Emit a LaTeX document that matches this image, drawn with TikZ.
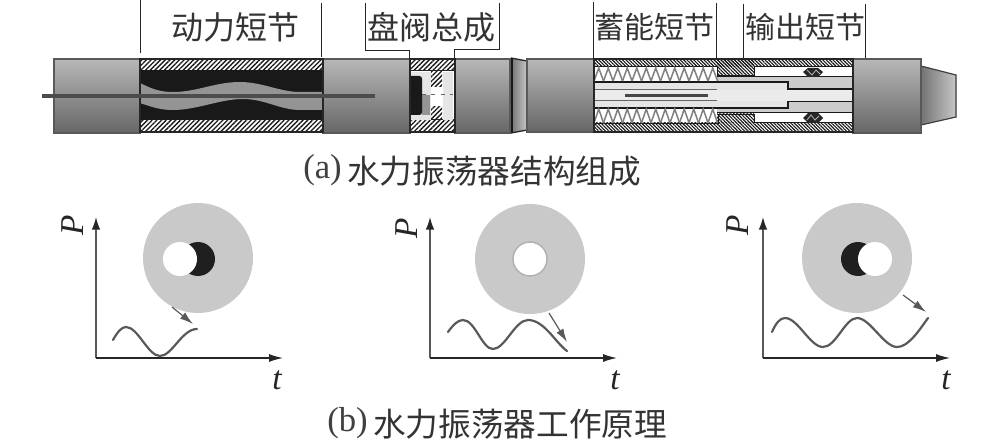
\documentclass[tikz,border=0pt]{standalone}
\usepackage{fontspec}
\setmainfont{Liberation Serif}
\newfontfamily\cjk{Noto Sans CJK SC}
\usetikzlibrary{patterns.meta,arrows.meta}
\definecolor{ink}{gray}{0.15}
\definecolor{wavegray}{gray}{0.35}
\definecolor{diskgray}{gray}{0.79}
\definecolor{lightfill}{gray}{0.9}
\definecolor{bandgray}{gray}{0.8}
\tikzset{
  px/.style={line width=#1*0.75pt},
  cylinder/.style={draw=black!65,px=1.2,top color=black!28,middle color=black!30,bottom color=black!60},
  hatchL/.style={pattern={Lines[angle=45,distance=2.5pt,line width=1pt]},pattern color=black!90},
  hatchR/.style={pattern={Lines[angle=-45,distance=1.8pt,line width=0.85pt]},pattern color=black!90},
  edge/.style={draw=ink,px=1.3},
  leader/.style={draw=ink,px=1},
  title/.style={font=\cjk\fontsize{24}{24}\selectfont,text=black!80,inner sep=0pt},
  titlesm/.style={font=\cjk\fontsize{22.5}{24}\selectfont,text=black!80,inner sep=0pt},
  caption/.style={font=\fontsize{26}{26}\selectfont,text=black!75,inner sep=0pt,anchor=west},
  captioncjk/.style={font=\cjk\fontsize{24.5}{26}\selectfont,text=black!80,inner sep=0pt,anchor=west},
  axisv/.style={draw=black!65,px=1.5,-{Latex[length=9.5pt,width=6.5pt,black!85]}},
  axish/.style={draw=black!85,px=1.2,-{Latex[length=10.5pt,width=6pt,black!85]}},
  wave/.style={draw=wavegray,px=2.2,line cap=round},
  pointer/.style={draw=wavegray,px=1.2,-{Latex[length=10pt,width=6pt,wavegray]}},
  axislabel/.style={font=\itshape\fontsize{25}{25}\selectfont,text=black!85,inner sep=0pt},
  seal/.style={fill=black!85},
  springline/.style={draw=black!50,px=1.5}
}
\begin{document}
\begin{tikzpicture}[x=0.75pt,y=-0.75pt]
\useasboundingbox (0,0) rectangle (981,442);

% ---- tapered joint and nose behind the cylinders
\fill[left color=black!55,right color=black!22] (511,58) -- (527,61) -- (527,130) -- (511,133) -- cycle;
\draw[edge] (511,58) -- (527,61) (511,133) -- (527,130);
\draw[draw=black!90,px=3] (511,58) -- (511,133);
\fill[left color=black!55,right color=black!22] (921,66) -- (956,75) -- (956,117) -- (921,125) -- cycle;
\draw[draw=black!75,px=1.2] (921,66) -- (956,75) -- (956,117) -- (921,125);

% ---- cylinders
\draw[cylinder] (54,59) rectangle (140,133);
\draw[cylinder] (323,59) rectangle (410,133);
\draw[cylinder] (455,59) rectangle (510,133);
\draw[cylinder] (527,59) rectangle (594,132);
\draw[cylinder] (853,59) rectangle (921,133);

% ---- power section
\fill[white] (140,59) rectangle (323,132);
\fill[hatchL] (140,59) rectangle (323,70);
\fill[hatchL] (140,120) rectangle (323,132);
\fill[black!90] (140,70) rectangle (323,120);
\fill[black!42]
  (140,83) .. controls (152,89) and (160,92) .. (173,92)
  .. controls (197,92) and (215,82) .. (240,82)
  .. controls (262,82) and (280,92) .. (300,92) -- (323,92)
  -- (323,110) -- (300,110)
  .. controls (280,110) and (265,99) .. (243,99)
  .. controls (220,99) and (197,110) .. (173,110)
  .. controls (160,110) and (152,107) .. (140,103) -- cycle;
\draw[edge] (140,59) rectangle (323,132);

% ---- disc valve assembly
\fill[white] (410,59) rectangle (455,132);
\fill[hatchL] (410,59) rectangle (455,70);
\fill[hatchL] (410,120) rectangle (455,132);
\draw[draw=black!85,px=1] (410,71) -- (455,71) (410,120) -- (455,120);
\fill[lightfill] (411,72) rectangle (431,120);
\fill[black!42] (422,95) rectangle (430,115);
\fill[black!90] (411,76) -- (419,76) .. controls (421,76) and (422,77) .. (422,79) -- (422,112) .. controls (422,114) and (421,115) .. (419,115) -- (411,115) -- cycle;
\fill[hatchL] (431,72) rectangle (442,87);
\fill[hatchL] (431,106) rectangle (442,120);
\fill[white] (431,87) rectangle (442,106);
\fill[lightfill] (443,72) rectangle (453,120);
\draw[draw=black!60,px=1,dash pattern=on 3pt off 4pt] (422,95) -- (453,95);
\draw[edge] (410,59) rectangle (455,132);

% ---- accumulator and output sections
\fill[white] (594,59) rectangle (853,132);
\fill[hatchR] (594,59) rectangle (853,67);
\fill[hatchR] (594,123) rectangle (853,132);
\fill[hatchR] (717,59) rectangle (754,76);
\fill[hatchR] (717,114) rectangle (754,123);
\draw[draw=black!90,px=1] (594,67) -- (717,67) -- (717,76) -- (754,76) -- (754,67) -- (853,67);
\draw[draw=black!90,px=1] (594,124) -- (718,124) -- (718,115) -- (754,115) -- (754,123) -- (853,123);
\fill[bandgray] (717,77) rectangle (853,113);
\draw[draw=black!90,px=1] (717,77) -- (853,77) (717,113) -- (853,113);
\fill[lightfill] (594,82) rectangle (788,108);
\draw[draw=black!90,px=1.8] (594,82) -- (788,82) -- (788,89) -- (853,89);
\draw[draw=black!90,px=1.8] (594,108) -- (788,108) -- (788,101) -- (853,101);
\fill[white!92!black] (594,90) rectangle (853,101);
\draw[draw=black!60,px=1] (594,90) -- (717,90);
\draw[draw=black!60,px=1] (594,101) -- (717,101);
\fill[black!72] (625,94) rectangle (708,97);
% springs
\foreach \i in {0,...,12}{
  \draw[springline] ({594+\i*9.5},81) -- ({598.75+\i*9.5},68) -- ({603.5+\i*9.5},81);
  \draw[springline] ({594+\i*9.5},123) -- ({598.75+\i*9.5},109) -- ({603.5+\i*9.5},123);
}
% seals
\fill[seal] (803,72) -- (808,68) -- (818,68) -- (823,72) -- (818,77) -- (808,77) -- cycle;
\fill[seal] (803,118) -- (808,113) -- (818,113) -- (823,118) -- (818,123) -- (808,123) -- cycle;
\draw[draw=white!70!black,px=0.8] (807,70) -- (812,75) -- (816,70) -- (820,74) (807,120) -- (811,115) -- (815,120) -- (819,116);
\draw[edge] (594,59) rectangle (853,132);

% ---- long rod through the power section
\fill[black!70] (42,94) rectangle (375,98);

% ---- leader lines
\draw[leader] (140,0) -- (140,53);
\draw[leader] (321,3) -- (321,57);
\draw[leader] (365,3) -- (365,51) -- (409,51) -- (409,58);
\draw[leader] (499,3) -- (499,50) -- (454,50) -- (454,58);
\draw[leader] (593,2) -- (593,58);
\draw[leader] (716,3) -- (716,58);
\draw[leader] (743,4) -- (743,58);
\draw[leader] (865,4) -- (865,58);

% ---- section titles
\node[title] (power) at (235,27) {动力短节};
\node[title] (valve) at (431,27) {盘阀总成};
\node[titlesm] (accum) at (654,27) {蓄能短节};
\node[titlesm] (output) at (805,27) {输出短节};
\node[caption] (capa) at (303,170) {(a)};
\node[captioncjk] (capatext) at (347,171) {水力振荡器结构组成};
\node[caption] (capb) at (327,423) {(b)};
\node[captioncjk] (capbtext) at (373,424) {水力振荡器工作原理};

% ---- plot 1
\coordinate (o1) at (96,358);
\coordinate (y1) at (96,217);
\coordinate (x1) at (283,358);
\draw[axisv] (o1) -- (y1);
\draw[axish] (o1) -- (x1);
\node[axislabel,rotate=90] (p1) at (73,225) {P};
\node[axislabel] (t1) at (277,380) {t};
\fill[diskgray] (198,258) circle (55);
\fill[black!88] (198,259) circle (17);
\fill[white] (180,259) circle (17);
\draw[wave] (113,340) .. controls (118,331) and (122,327) .. (126,327)
  .. controls (138,327) and (148,356) .. (160,356)
  .. controls (172,356) and (182,329) .. (197,329);
\coordinate (a1s) at (172,307);
\coordinate (a1e) at (193,324);
\draw[pointer] (a1s) -- (a1e);

% ---- plot 2
\coordinate (o2) at (430,358);
\coordinate (y2) at (430,217);
\coordinate (x2) at (617,358);
\draw[axisv] (o2) -- (y2);
\draw[axish] (o2) -- (x2);
\node[axislabel,rotate=90] (p2) at (407,228) {P};
\node[axislabel] (t2) at (615,380) {t};
\fill[diskgray] (530,259) circle (55);
\draw[fill=white,draw=black!30,px=1.5] (530,259) circle (17);
\draw[wave] (448,332) .. controls (453,325) and (458,320) .. (463,320)
  .. controls (475,320) and (482,349) .. (493,349)
  .. controls (505,349) and (515,320) .. (528,320)
  .. controls (544,320) and (555,342) .. (567,351);
\coordinate (a2s) at (549,313);
\coordinate (a2e) at (567,342);
\draw[pointer] (a2s) -- (a2e);

% ---- plot 3
\coordinate (o3) at (763,358);
\coordinate (y3) at (763,217);
\coordinate (x3) at (950,358);
\draw[axisv] (o3) -- (y3);
\draw[axish] (o3) -- (x3);
\node[axislabel,rotate=90] (p3) at (738,225) {P};
\node[axislabel] (t3) at (946,380) {t};
\fill[diskgray] (857,258) circle (55);
\fill[black!88] (858,259) circle (17);
\fill[white] (875,259) circle (17);
\draw[wave] (772,332) .. controls (776,323) and (780,318) .. (785,318)
  .. controls (798,318) and (810,347) .. (823,347)
  .. controls (836,347) and (845,318) .. (857,318)
  .. controls (870,318) and (884,347) .. (897,347)
  .. controls (908,347) and (918,332) .. (928,318);
\coordinate (a3s) at (903,295);
\coordinate (a3e) at (926,312);
\draw[pointer] (a3s) -- (a3e);
\end{tikzpicture}
\end{document}
